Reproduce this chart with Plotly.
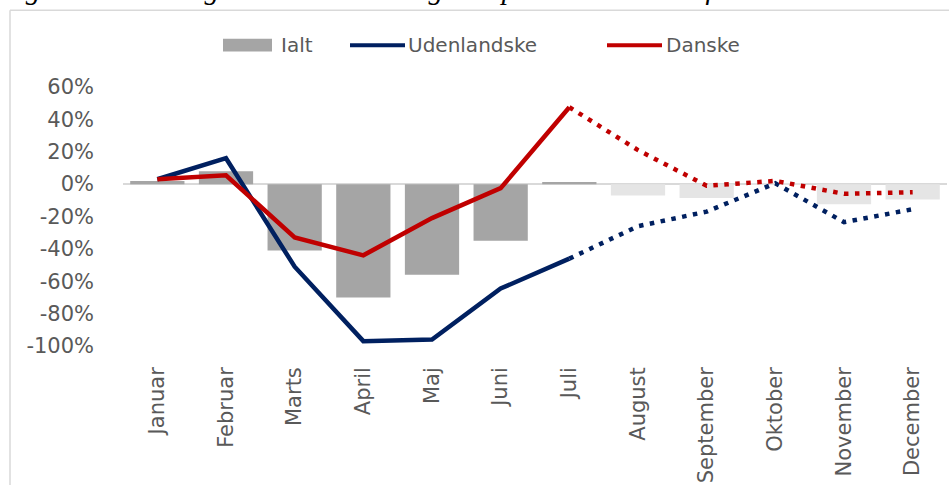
import plotly.graph_objects as go

# ---------------- data ----------------
months = ["Januar", "Februar", "Marts", "April", "Maj", "Juni", "Juli",
          "August", "September", "Oktober", "November", "December"]
observed_months = months[:7]
projected_months = months[6:]
ialt_observed = [2, 8, -41, -70, -56, -35, 1.3]
ialt_projected_months = months[7:]
ialt_projected = [-7, -8.5, 0.6, -12.5, -9.5]
udenlandske_observed = [3, 16, -51, -97, -96, -64.5, -46]
udenlandske_projected = [-46, -26, -17, 0.5, -23.5, -15.5]
danske_observed = [3, 5.5, -33, -44, -21, -2.5, 47.5]
danske_projected = [47.5, 21, -1, 2, -6, -5]
y_tickvals = [60, 40, 20, 0, -20, -40, -60, -80, -100]
y_ticktext = ["60%", "40%", "20%", "0%", "-20%", "-40%", "-60%", "-80%", "-100%"]
legend_names = ["Ialt", "Udenlandske", "Danske"]
title_text = "Figur 4: Udvikling i turistovernatningerne per måned 2020 ift. 2019"

# ---------------- style ----------------
W, H = 949, 485
L, R, T, B = 123, 947, 87, 350
GRAY = "#a5a5a5"
LIGHT = "#e5e5e5"
NAVY = "#002060"
RED = "#c00000"
TXT = "#595959"
FONT = "DejaVu Sans"
LW = 4.5


def px_x(p):
    return (p - L) / (R - L)


def px_y(p):
    return (B - p) / (B - T)


fig = go.Figure()
fig.add_trace(go.Bar(x=observed_months, y=ialt_observed, marker_color=GRAY,
                     marker_line_width=0, width=0.79, showlegend=False))
fig.add_trace(go.Bar(x=ialt_projected_months, y=ialt_projected, marker_color=LIGHT,
                     marker_line_width=0, width=0.79, showlegend=False))
fig.add_trace(go.Scatter(x=observed_months, y=udenlandske_observed, mode="lines",
                         line=dict(color=NAVY, width=LW), showlegend=False))
fig.add_trace(go.Scatter(x=projected_months, y=udenlandske_projected, mode="lines",
                         line=dict(color=NAVY, width=LW, dash="4.5px,6.5px"), showlegend=False))
fig.add_trace(go.Scatter(x=observed_months, y=danske_observed, mode="lines",
                         line=dict(color=RED, width=LW), showlegend=False))
fig.add_trace(go.Scatter(x=projected_months, y=danske_projected, mode="lines",
                         line=dict(color=RED, width=LW, dash="4.5px,6.5px"), showlegend=False))

shapes = [
    # chart frame (top and left edges visible)
    dict(type="line", xref="paper", yref="paper", x0=px_x(10), x1=px_x(960),
         y0=px_y(9), y1=px_y(9), line=dict(color="#d9d9d9", width=1.5)),
    dict(type="line", xref="paper", yref="paper", x0=px_x(10), x1=px_x(10),
         y0=px_y(9), y1=px_y(495), line=dict(color="#d9d9d9", width=1.5)),
    # legend symbols
    dict(type="rect", xref="paper", yref="paper", x0=px_x(223), x1=px_x(272),
         y0=px_y(51), y1=px_y(38), fillcolor=GRAY, line=dict(width=0)),
    dict(type="line", xref="paper", yref="paper", x0=px_x(350), x1=px_x(405),
         y0=px_y(44.5), y1=px_y(44.5), line=dict(color=NAVY, width=4)),
    dict(type="line", xref="paper", yref="paper", x0=px_x(607), x1=px_x(662),
         y0=px_y(44.5), y1=px_y(44.5), line=dict(color=RED, width=4)),
]

annotations = [
    dict(text=legend_names[0], x=px_x(279), y=px_y(44.5), xanchor="left", yanchor="middle"),
    dict(text=legend_names[1], x=px_x(406), y=px_y(44.5), xanchor="left", yanchor="middle"),
    dict(text=legend_names[2], x=px_x(664), y=px_y(44.5), xanchor="left", yanchor="middle"),
]
for a in annotations:
    a.update(xref="paper", yref="paper", showarrow=False,
             font=dict(family=FONT, size=20, color=TXT))
annotations.append(dict(text="<i>" + title_text + "</i>", xref="paper", yref="paper",
                        x=px_x(-3), y=px_y(6), xanchor="left", yanchor="bottom",
                        showarrow=False,
                        font=dict(family="Liberation Serif", size=29, color="#000000")))

fig.update_layout(
    width=W, height=H,
    margin=dict(l=L, r=W - R, t=T, b=H - B, pad=0),
    paper_bgcolor="white", plot_bgcolor="white",
    barmode="overlay",
    showlegend=False,
    shapes=shapes,
    annotations=annotations,
    font=dict(family=FONT, size=21, color=TXT),
)
fig.update_xaxes(categoryorder="array", categoryarray=months,
                 tickangle=-90, showgrid=False, showline=False, zeroline=False,
                 ticks="", ticklabelstandoff=16,
                 tickfont=dict(family=FONT, size=21, color=TXT))
fig.update_yaxes(range=[-100, 60], tickvals=y_tickvals, ticktext=y_ticktext,
                 showgrid=False, showline=False, zeroline=True,
                 zerolinecolor="#d9d9d9", zerolinewidth=1.5,
                 ticks="", ticklabelstandoff=28,
                 tickfont=dict(family=FONT, size=21, color=TXT))

fig.write_html("out.html", config={"displayModeBar": False},
               post_script="document.body.style.margin='0';")
